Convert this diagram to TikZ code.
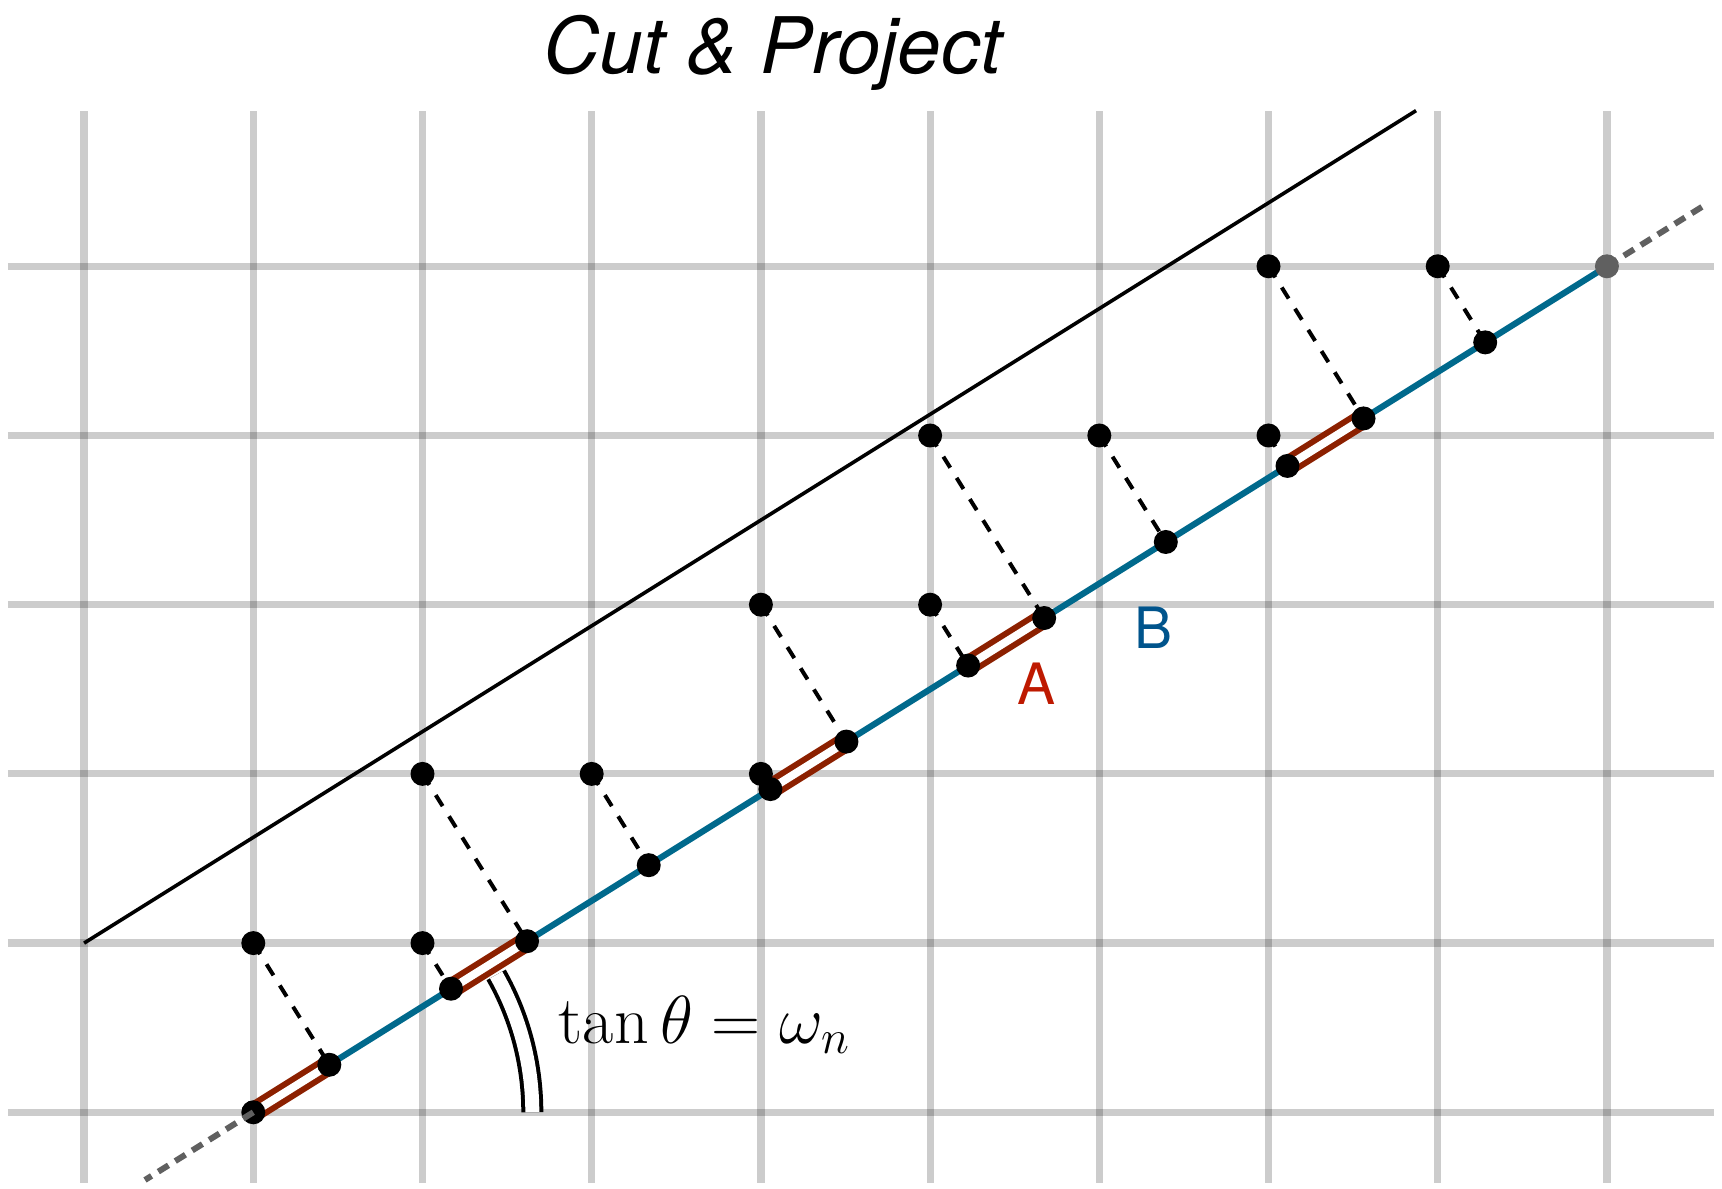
\RequirePackage{fix-cm}
\documentclass[tikz,border=0pt]{standalone}
\usepackage{fontspec}
\newfontfamily\helv{TeX Gyre Heros}
\usetikzlibrary{calc}
\definecolor{lineblue}{RGB}{0,105,140}
\definecolor{labelblue}{RGB}{0,84,140}
\definecolor{segred}{RGB}{140,32,0}
\definecolor{labelred}{RGB}{190,25,0}
\definecolor{extgray}{RGB}{96,96,96}
\tikzset{
  gridline/.style={line width=3.6pt, draw=black, draw opacity=0.2},
  cutline/.style={line width=1.8pt, draw=black},
  physline/.style={line width=3.1pt, draw=lineblue},
  extline/.style={line width=3pt, draw=extgray, dash pattern=on 6pt off 4pt},
  redseg/.style={draw=segred, double=white, line width=3pt, double distance=4pt},
  projline/.style={line width=2pt, draw=black, dash pattern=on 6.5pt off 6pt},
  anglearc/.style={draw=black, double=white, line width=2pt, double distance=7pt},
  dot/.style={circle, fill=black, inner sep=0pt, minimum size=12pt},
  graydot/.style={circle, fill=extgray, inner sep=0pt, minimum size=12pt},
}
\begin{document}
\begin{tikzpicture}[x=84.6pt,y=84.6pt]
\useasboundingbox (-1.49704,-0.44740) rectangle (8.68026,6.57388);
% grid
\foreach \i in {-1,...,8} {
  \coordinate (vb\i) at (\i,-0.416);
  \coordinate (vt\i) at (\i,5.918);
  \draw[gridline] (vb\i) -- (vt\i);
}
\foreach \j in {0,...,5} {
  \coordinate (hl\j) at (-1.450,\j);
  \coordinate (hr\j) at (8.633,\j);
  \draw[gridline] (hl\j) -- (hr\j);
}
% cut line
\coordinate (c0) at (-1,1);
\coordinate (c1) at (6.872,5.92);
\draw[cutline] (c0) -- (c1);
% physical line
\coordinate (O) at (0,0);
\coordinate (E) at (8,5);
\coordinate (x0) at (-0.64,-0.4);
\coordinate (x1) at (8.6,5.375);
\draw[physline] (O) -- (E);
% lattice points and projections
\foreach \i/\j in {0/1,1/1,1/2,2/2,3/2,3/3,4/3,4/4,5/4,6/4,6/5,7/5} {
  \coordinate (l\i\j) at (\i,\j);
  \coordinate (p\i\j) at ($(O)!(l\i\j)!(E)$);
}
% short tiles
\foreach \a/\b in {O/p01,p11/p12,p32/p33,p43/p44,p64/p65}
  \draw[redseg] (\a) -- (\b);
% projection lines
\foreach \i/\j in {0/1,1/1,1/2,2/2,3/2,3/3,4/3,4/4,5/4,6/4,6/5,7/5}
  \draw[projline] (l\i\j) -- (p\i\j);
% angle arc
\coordinate (arcs) at (1.649,0);
\draw[anglearc] (arcs) arc[start angle=0, end angle=29.5, radius=1.649];
% dots
\node[dot] (dO) at (O) {};
\foreach \i/\j in {0/1,1/1,1/2,2/2,3/2,3/3,4/3,4/4,5/4,6/4,6/5,7/5} {
  \node[dot] (dl\i\j) at (l\i\j) {};
  \node[dot] (dp\i\j) at (p\i\j) {};
}
% extensions
\draw[extline] (O) -- (x0);
\draw[extline] (E) -- (x1);
\node[graydot] (dE) at (E) {};
% texts
\node[anchor=base, inner sep=0pt] (title) at (3.069,6.142)
  {\fontsize{39}{47}\selectfont\helv\itshape Cut \& Project};
\node[anchor=base, inner sep=0pt, text=labelred] (labA) at (4.626,2.413)
  {\fontsize{28.5}{34}\selectfont\helv A};
\node[anchor=base, inner sep=0pt, text=labelblue] (labB) at (5.321,2.742)
  {\fontsize{28.5}{34}\selectfont\helv B};
\node[anchor=base west, inner sep=0pt] (eq) at (1.803,0.408)
  {\fontsize{34}{40}\selectfont $\tan\theta=\omega_n$};
\end{tikzpicture}
\end{document}
